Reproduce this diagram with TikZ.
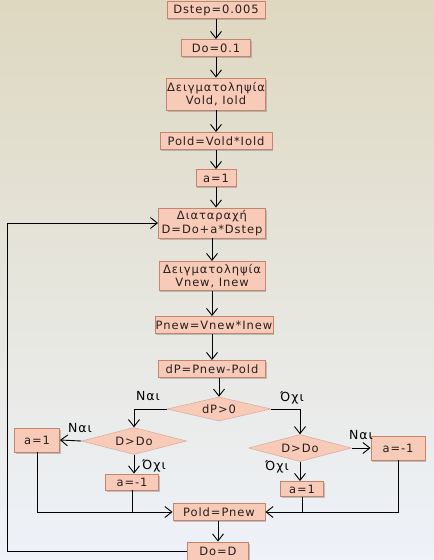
\documentclass[tikz,border=0pt]{standalone}
\usepackage{fontspec}
\setmainfont[LetterSpace=8]{DejaVu Sans}
\usetikzlibrary{arrows.meta,shapes.geometric,shadows}
\definecolor{bgtop}{RGB}{222,216,192}
\definecolor{bgmid}{RGB}{218,228,236}
\definecolor{bgbot}{RGB}{238,242,249}
\definecolor{boxfill}{RGB}{247,203,184}
\definecolor{boxline}{RGB}{196,132,110}
\definecolor{txt}{RGB}{40,30,30}
\tikzset{
  bx/.style={draw=boxline, line width=0.9pt, fill=boxfill, inner sep=0pt, align=center,
    text=txt, font=\fontsize{11.5}{13.5}\selectfont,
    drop shadow={shadow xshift=1.2pt, shadow yshift=-1.5pt, opacity=0.35, fill=black!60}},
  dm/.style={diamond, draw=boxline!70, line width=0.5pt, fill=boxfill, inner sep=0pt, aspect=3.8,
    text=txt, font=\fontsize{11.5}{13.5}\selectfont},
  ar/.style={draw=black, line width=0.9pt, -{Straight Barb[length=7pt,width=11pt,line width=0.9pt]}},
  ln/.style={draw=black, line width=0.9pt},
  lb/.style={font=\fontsize{12.5}{14}\selectfont, text=black, inner sep=0pt}
}
\begin{document}
\begin{tikzpicture}[x=1pt,y=-1pt]
\useasboundingbox (0,0) rectangle (434,560);
\shade[top color=bgtop, middle color=bgmid, bottom color=bgbot] (0,0) rectangle (434,560);

\node[bx, minimum width=98pt, minimum height=17pt] (n1) at (216,10) {Dstep=0.005};
\node[bx, minimum width=69pt, minimum height=17pt] (n2) at (216,48) {Do=0.1};
\node[bx, minimum width=99pt, minimum height=32pt] (n3) at (216,94) {Δειγματοληψία\\Vold, Iold};
\node[bx, minimum width=112pt, minimum height=17pt] (n4) at (216,141) {Pold=Vold*Iold};
\node[bx, minimum width=40pt, minimum height=17pt] (n5) at (216,178) {a=1};
\node[bx, minimum width=107pt, minimum height=30pt] (n6) at (212,223) {Διαταραχή\\D=Do+a*Dstep};
\node[bx, minimum width=106pt, minimum height=29pt] (n7) at (212,276) {Δειγματοληψία\\Vnew, Inew};
\node[bx, minimum width=118pt, minimum height=17pt] (n8) at (214,325) {Pnew=Vnew*Inew};
\node[bx, minimum width=107pt, minimum height=17pt] (n9) at (212,369) {dP=Pnew-Pold};

\node[dm, minimum width=104pt, minimum height=24pt] (d1) at (219,409) {dP>0};
\node[dm, minimum width=105pt, minimum height=27pt] (d2) at (134,441) {D>Do};
\node[dm, minimum width=103pt, minimum height=27pt] (d3) at (300,448) {D>Do};

\node[bx, minimum width=45pt, minimum height=24pt] (l1) at (37,440) {a=1};
\node[bx, minimum width=53pt, minimum height=16pt] (l2) at (132,482) {a=-1};
\node[bx, minimum width=54pt, minimum height=24pt] (r1) at (398,448) {a=-1};
\node[bx, minimum width=43pt, minimum height=15pt] (r2) at (302,489) {a=1};

\node[bx, minimum width=92pt, minimum height=17pt] (n10) at (219,512) {Pold=Pnew};
\node[bx, minimum width=61pt, minimum height=18pt] (n11) at (218,551) {Do=D};

\coordinate (loopx) at (7,0);

\draw[ar] (n1) -- (n2);
\draw[ar] (n2) -- (n3);
\draw[ar] (n3) -- (n4);
\draw[ar] (n4) -- (n5);
\draw[ar] (n5.south) -- (n5.south |- n6.north);
\draw[ar] (n6) -- (n7);
\draw[ar] (n7) -- (n8.north -| n7);
\draw[ar] (n8.south -| n9) -- (n9);
\draw[ar] (n9.south -| d1.north) -- (d1.north);

\draw[ar] (d1.west) -| (d2.north);
\draw[ar] (d1.east) -| (d3.north);
\draw[ar] (d2.west) -- (l1.east);
\draw[ar] (d2.south) -- (l2.north -| d2.south);
\draw[ar] (d3.east) -- (r1.west);
\draw[ar] (d3.south) -- (r2.north -| d3.south);

\draw[ar] (l1.south) |- (n10.west);
\draw[ln] (l2.south) -- (l2.south |- n10.west);
\draw[ar] (r1.south) |- (n10.east);
\draw[ln] (r2.south) -- (r2.south |- n10.east);

\draw[ar] (n10.south -| n11.north) -- (n11.north);
\draw[ar] (n11.west) -- (n11.west -| loopx) |- (n6.west);

\node[lb] (t1) at (148,396) {Ναι};
\node[lb] (t2) at (292,398) {Όχι};
\node[lb] (t3) at (80,428) {Ναι};
\node[lb] (t4) at (154,466) {Όχι};
\node[lb] (t5) at (361,435) {Ναι};
\node[lb] (t6) at (277,467) {Όχι};
\end{tikzpicture}
\end{document}
